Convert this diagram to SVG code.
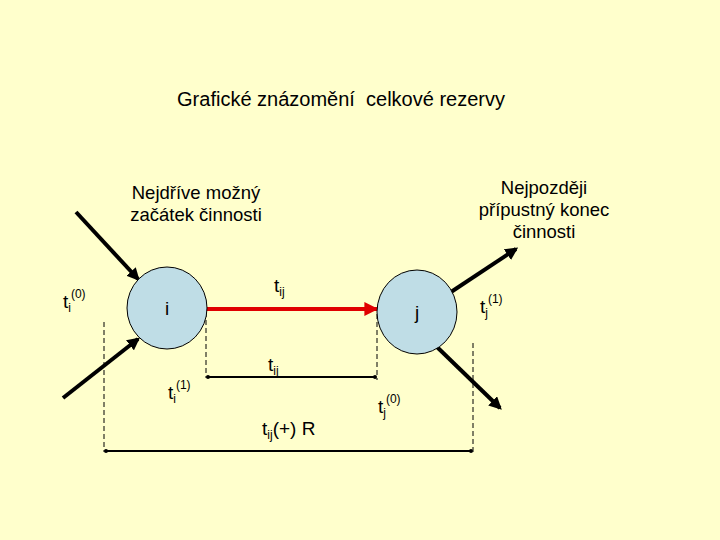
<svg xmlns="http://www.w3.org/2000/svg" width="720" height="540" viewBox="0 0 720 540">
<defs>
<style>
text,tspan{font-family:"Liberation Sans",Arial,sans-serif;fill:#000}
.t{font-size:18.5px}
.lbl{font-size:19px}
.s{font-size:12px}
.node{fill:#BFDDE6;stroke:#000;stroke-width:1}
.arr{stroke:#000;stroke-width:4;fill:none;marker-end:url(#ah)}
.dash{stroke:#000;stroke-width:1;stroke-dasharray:5,3;fill:none}
.dim{stroke:#000;stroke-width:2;fill:none;marker-start:url(#dm);marker-end:url(#dm)}
</style>
<marker id="ah" viewBox="0 0 10 10" refX="8" refY="5" markerWidth="3.2" markerHeight="3.2" orient="auto" markerUnits="strokeWidth"><path d="M0,0 L10,5 L0,10 z" fill="#000"/></marker>
<marker id="rh" viewBox="0 0 10 10" refX="9" refY="5" markerWidth="4" markerHeight="3.5" orient="auto" markerUnits="strokeWidth"><path d="M0,0 L10,5 L0,10 z" fill="#E00000"/></marker>
<marker id="dm" viewBox="0 0 10 10" refX="5" refY="5" markerWidth="2" markerHeight="2" orient="auto" markerUnits="strokeWidth"><circle cx="5" cy="5" r="5" fill="#000"/></marker>
</defs>
<rect width="720" height="540" fill="#FFFFCC"/>
<text x="341" y="106" text-anchor="middle" style="font-size:20px">Grafické znázomění&#160; celkové rezervy</text>
<text class="t" x="196" y="199" text-anchor="middle">Nejdříve možný</text>
<text class="t" x="196" y="221" text-anchor="middle">začátek činnosti</text>
<text class="t" x="544" y="194" text-anchor="middle">Nejpozději</text>
<text class="t" x="544" y="216" text-anchor="middle">přípustný konec</text>
<text class="t" x="544" y="238" text-anchor="middle">činnosti</text>
<g id="connectors">
<line class="arr" x1="76" y1="212" x2="138" y2="279"/>
<line class="arr" x1="63" y1="398" x2="138" y2="339"/>
<line class="arr" x1="451" y1="292" x2="516" y2="249"/>
<line class="arr" x1="437" y1="347" x2="500" y2="408"/>
<line x1="206" y1="309" x2="377" y2="309" stroke="#E00000" stroke-width="4" marker-end="url(#rh)"/>
<line class="dash" x1="104" y1="322" x2="104" y2="452"/>
<line class="dash" x1="206" y1="312" x2="206" y2="378"/>
<line class="dash" x1="377" y1="314" x2="377" y2="380"/>
<line class="dash" x1="473" y1="343" x2="473" y2="452"/>
<line class="dim" x1="106" y1="451" x2="471" y2="451"/>
<line class="dim" x1="208" y1="377" x2="375" y2="377"/>
</g>
<g id="node-i">
<ellipse class="node" cx="167" cy="308" rx="40" ry="41"/>
<text class="lbl" x="167" y="315" text-anchor="middle">i</text>
</g>
<g id="node-j">
<ellipse class="node" cx="417" cy="312" rx="40" ry="42"/>
<text class="lbl" x="417" y="319" text-anchor="middle">j</text>
</g>
<g id="labels">
<text class="lbl" x="63" y="308">t<tspan class="s" dy="4">i</tspan><tspan class="s" dy="-14">(0)</tspan></text>
<text class="lbl" x="274" y="292">t<tspan class="s" dy="4">ij</tspan></text>
<text class="lbl" x="480" y="313">t<tspan class="s" dy="4">j</tspan><tspan class="s" dy="-14">(1)</tspan></text>
<text class="lbl" x="268" y="371">t<tspan class="s" dy="4">ij</tspan></text>
<text class="lbl" x="168" y="399">t<tspan class="s" dy="4">i</tspan><tspan class="s" dy="-14">(1)</tspan></text>
<text class="lbl" x="378" y="413">t<tspan class="s" dy="4">j</tspan><tspan class="s" dy="-14">(0)</tspan></text>
<text class="lbl" x="262" y="435">t<tspan class="s" dy="4">ij</tspan><tspan dy="-4">(+) R</tspan></text>
</g>
</svg>
